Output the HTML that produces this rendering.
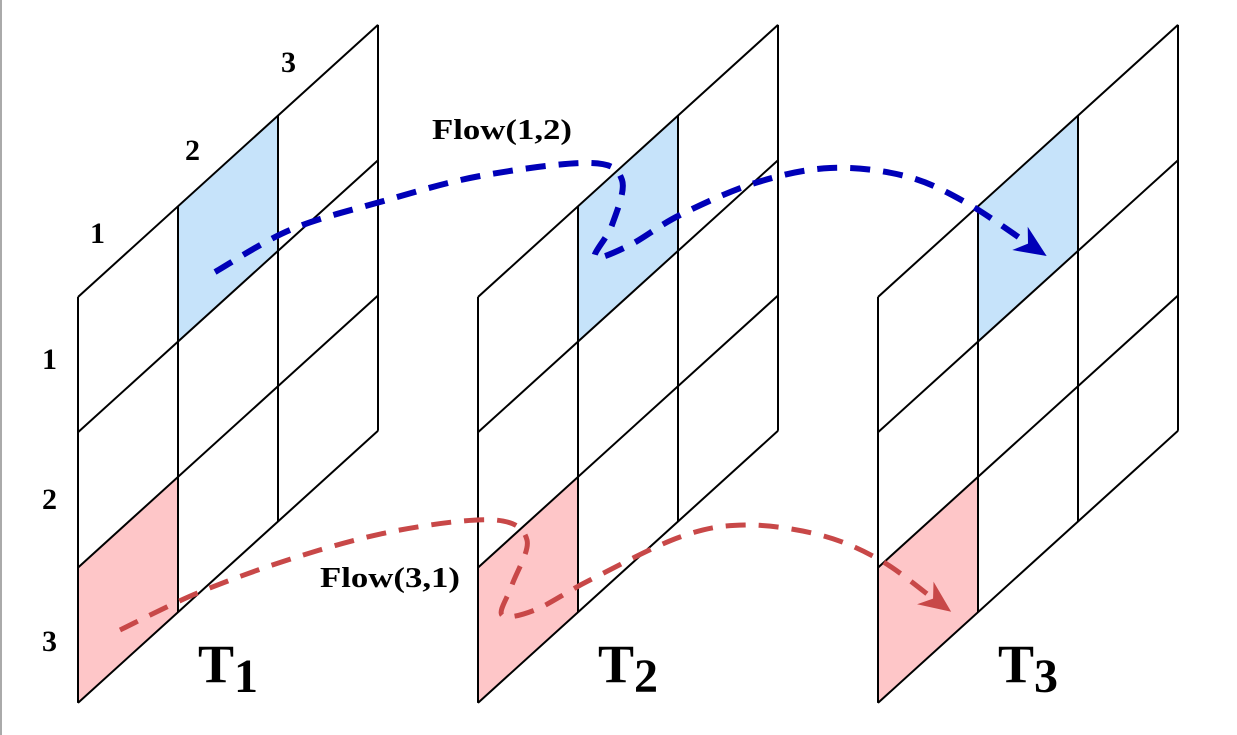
<!DOCTYPE html>
<html><head><meta charset="utf-8"><style>
html,body{margin:0;padding:0;background:#fff;}
svg{display:block;}
text{font-family:"Liberation Serif",serif;font-weight:bold;fill:#000;}
</style></head><body>
<svg id="s" width="1237" height="735" viewBox="0 0 1237 735" xmlns="http://www.w3.org/2000/svg">
<rect x="0" y="0" width="2" height="735" fill="#aaa"/>
<g id="grids"></g>
<text x="90" y="243" font-size="30">1</text>
<text x="185" y="160" font-size="30">2</text>
<text x="281" y="72" font-size="30">3</text>
<text x="42" y="369" font-size="30">1</text>
<text x="42" y="509" font-size="30">2</text>
<text x="42" y="651" font-size="30">3</text>
<text x="432" y="139" font-size="28" textLength="140" lengthAdjust="spacingAndGlyphs">Flow(1,2)</text>
<text x="320" y="587" font-size="28" textLength="140" lengthAdjust="spacingAndGlyphs">Flow(3,1)</text>
<text x="198" y="682" font-size="54">T<tspan font-size="48" dy="10">1</tspan></text>
<text x="598" y="682" font-size="54">T<tspan font-size="48" dy="10">2</tspan></text>
<text x="998" y="682" font-size="54">T<tspan font-size="48" dy="10">3</tspan></text>
<g id="flows"></g>
</svg>
<script>
const NS="http://www.w3.org/2000/svg";
const gridOffsets=[0,400,800];
const blueCell=[1,0];const redCell=[0,2];
const bluePts=[[215,272],[290,230],[380,202],[480,176],[590,163],[622,180],[612,225],[595,257],[630,245],[680,215],[755,183],[830,168],[905,176],[965,202],[1030,245]];
const redPts=[[120,630],[200,592],[300,556],[400,530],[495,520],[527,540],[512,585],[502,615],[535,610],[590,580],[680,537],[745,525],[820,535],[880,560],[935,600]];
function P(ox,c,r){return [78+ox+c*100, 297-c*90.7+r*135.3];}
const g=document.getElementById('grids');
gridOffsets.forEach((ox,i)=>{
  const grp=document.createElementNS(NS,'g');
  
  
  g.appendChild(grp);
  [[blueCell,'#c6e3fa','blue-cell'],[redCell,'#fec6c8','red-cell']].forEach(([cell,col,nm])=>{
    const [c,r]=cell;const a=P(ox,c,r),b=P(ox,c+1,r),d=P(ox,c+1,r+1),e=P(ox,c,r+1);
    const p=document.createElementNS(NS,'polygon');
    p.setAttribute('points',[a,b,d,e].map(q=>q.join(',')).join(' '));
    p.setAttribute('fill',col);
    
    
    grp.appendChild(p);
  });
  for(let c=0;c<=3;c++){const a=P(ox,c,0),b=P(ox,c,3);
    const l=document.createElementNS(NS,'line');l.setAttribute('x1',a[0]);l.setAttribute('y1',a[1]);l.setAttribute('x2',b[0]);l.setAttribute('y2',b[1]);l.setAttribute('stroke','#000');l.setAttribute('stroke-width','2');
    
    
    grp.appendChild(l);}
  for(let r=0;r<=3;r++){const a=P(ox,0,r),b=P(ox,3,r);
    const l=document.createElementNS(NS,'line');l.setAttribute('x1',a[0]);l.setAttribute('y1',a[1]);l.setAttribute('x2',b[0]);l.setAttribute('y2',b[1]);l.setAttribute('stroke','#000');l.setAttribute('stroke-width','2');
    
    
    grp.appendChild(l);}
});
function smooth(pts){let d='M'+pts[0].join(',');
  for(let i=0;i<pts.length-1;i++){const p0=pts[i-1]||pts[i],p1=pts[i],p2=pts[i+1],p3=pts[i+2]||p2;
    const c1=[p1[0]+(p2[0]-p0[0])/6,p1[1]+(p2[1]-p0[1])/6],c2=[p2[0]-(p3[0]-p1[0])/6,p2[1]-(p3[1]-p1[1])/6];
    d+=' C'+c1.join(',')+' '+c2.join(',')+' '+p2.join(',');}
  return d;}
const f=document.getElementById('flows');
[[bluePts,'#0000b8',6,'flow-1-2'],[redPts,'#c84848',5,'flow-3-1']].forEach(([pts,col,w,nm])=>{
  const p=document.createElementNS(NS,'path');
  p.setAttribute('d',smooth(pts));p.setAttribute('fill','none');p.setAttribute('stroke',col);p.setAttribute('stroke-width',w);p.setAttribute('stroke-dasharray','20 13');
  
  
  f.appendChild(p);
  const e=pts[pts.length-1],s=pts[pts.length-2];const ang=Math.atan2(e[1]-s[1],e[0]-s[0]);
  const L=32,W=14;const tip=[e[0]+Math.cos(ang)*20,e[1]+Math.sin(ang)*20];
  const bx=tip[0]-Math.cos(ang)*L,by=tip[1]-Math.sin(ang)*L;
  const mid=[tip[0]-Math.cos(ang)*L*0.7,tip[1]-Math.sin(ang)*L*0.7];
  const h=document.createElementNS(NS,'polygon');
  h.setAttribute('points',[tip,[bx-Math.sin(ang)*W,by+Math.cos(ang)*W],mid,[bx+Math.sin(ang)*W,by-Math.cos(ang)*W]].map(q=>q.join(',')).join(' '));
  h.setAttribute('fill',col);
  
  
  f.appendChild(h);
});
</script>
</body></html>
